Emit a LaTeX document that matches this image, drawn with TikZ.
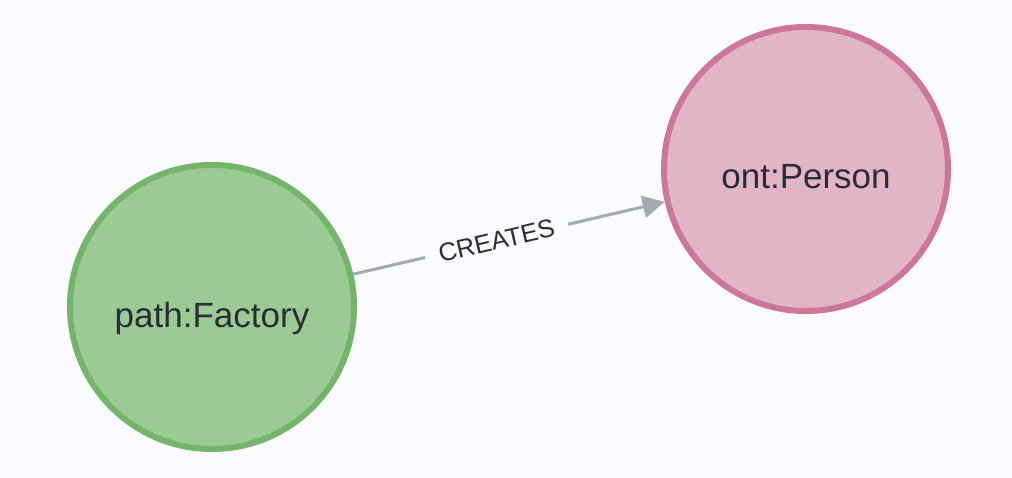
\documentclass[tikz,border=0pt]{standalone}
\usepackage{fontspec}
\setmainfont{Liberation Sans}
\usetikzlibrary{arrows.meta,positioning}
\definecolor{bgcol}{HTML}{F9FBFE}
\definecolor{txtcol}{HTML}{2A2C34}
\definecolor{edgecol}{HTML}{A5A9B2}
\definecolor{greenfill}{HTML}{9CCA95}
\definecolor{greenline}{HTML}{74B46B}
\definecolor{pinkfill}{HTML}{E2B5C6}
\definecolor{pinkline}{HTML}{CC7798}
\tikzset{
entity/.style={
  circle,
  minimum size=284pt,
  line width=6pt,
  text=txtcol,
  text height=40pt,
  text depth=0pt,
  font=\fontsize{35}{42}\selectfont
},
factory/.style={entity, draw=greenline, fill=greenfill},
person/.style={entity, draw=pinkline, fill=pinkfill},
relation/.style={draw=edgecol, line width=3pt, -{Triangle[length=22pt,width=22pt]}},
rellabel/.style={pos=0.46, sloped, fill=bgcol, text=txtcol, inner xsep=14pt, inner ysep=2pt,
  font=\fontsize{25.5}{30}\selectfont},
}
\begin{document}
\begin{tikzpicture}[x=1pt,y=-1pt]
  \fill[bgcol] (0,0) rectangle (1012,478);
  \useasboundingbox (0,0) rectangle (1012,478);
  \node[factory] (factory) at (212,307) {path:Factory};
  \node[person] (person) at (806,169) {ont:Person};
  \draw[relation] (factory) -- node[rellabel] {CREATES} (person);
\end{tikzpicture}
\end{document}
